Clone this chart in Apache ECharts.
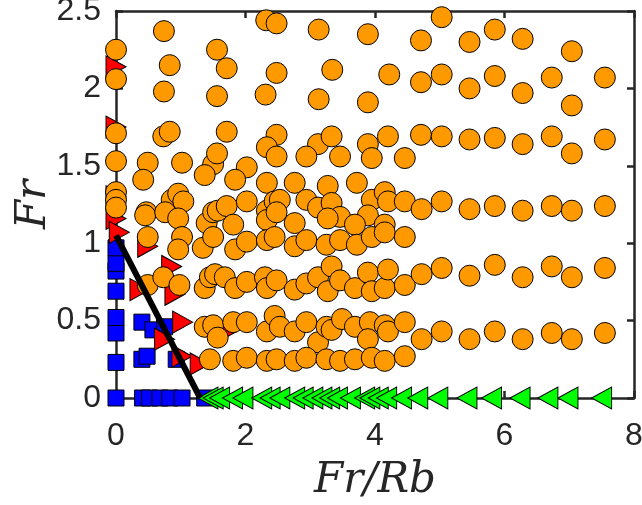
<!DOCTYPE html>
<html><head><meta charset="utf-8">
<script src="https://cdn.jsdelivr.net/npm/echarts@6/dist/echarts.min.js"></script>
<style>html,body{margin:0;padding:0;background:#fff}#c{width:642px;height:505px}</style>
</head><body><div id="c"></div>
<script>
const xTicks = [0, 2, 4, 6, 8];
const yTicks = [0, 0.5, 1, 1.5, 2, 2.5];

const bluePts = [[0,0],[0,0.23],[0,0.42],[0,0.52],[0,0.69],[0,0.82],[0,0.87],[0,0.97],
  [0.40,0.49],[0.57,0.44],[0.40,0.25],[0.48,0.27],[0.75,0.46],[0.93,0.25],
  [0.41,0],[0.52,0],[0.68,0],[0.83,0],[1.02,0],[1.37,0]];

const redPts = [[0,2.14],[0,1.75],[0,1.30],[0,1.16],[0.05,1.07],[0.49,0.98],[0.86,0.85],
  [0.37,0.70],[0.91,0.67],[1.03,0.49],[0.75,0.38],[1.02,0.27],[1.30,0.22],[1.71,0.43]];

const orangePts = [
  [2.32,2.44],[2.48,2.42],[3.13,2.38],[3.89,2.35],[4.71,2.31],[5.03,2.46],[5.46,2.30],[5.85,2.38],[6.28,2.32],[7.04,2.24],[0.74,2.37],[1.56,2.25],[0,2.25],
  [0,2.06],[0.83,2.15],[1.71,2.13],[2.48,2.10],[3.34,2.12],[4.22,2.09],[5.03,2.09],[5.85,2.08],[6.73,2.07],[7.55,2.07],
  [0.74,1.98],[1.56,1.95],[2.31,1.96],[3.13,1.93],[3.89,1.91],[4.71,2.04],[5.46,2.00],[6.28,1.97],[7.04,1.89],
  [0,1.71],[0.73,1.69],[0.83,1.72],[1.71,1.72],[2.48,1.70],[3.12,1.64],[3.33,1.69],[3.89,1.64],[4.20,1.69],[4.71,1.70],[5.03,1.69],[5.46,1.67],[5.85,1.68],[6.28,1.64],[6.73,1.69],[7.04,1.58],[7.55,1.67],
  [0,1.53],[0.49,1.52],[1.02,1.52],[1.50,1.51],[1.56,1.58],[2.02,1.49],[2.33,1.62],[2.48,1.56],[2.94,1.56],[3.46,1.56],[3.95,1.55],[4.46,1.55],
  [0.42,1.41],[1.37,1.44],[1.84,1.41],[2.33,1.39],[2.76,1.39],[3.27,1.37],[3.72,1.39],
  [0,1.33],[0,1.28],[0,1.23],[0.47,1.20],[0.45,1.18],[0.86,1.28],[0.96,1.32],[1.04,1.27],[0.76,1.20],[0.96,1.16],[1.40,1.13],[1.50,1.20],[1.57,1.21],[1.71,1.24],[1.81,1.12],[2.02,1.27],[2.33,1.21],[2.45,1.27],[2.33,1.15],[2.53,1.28],[2.48,1.20],[2.94,1.28],[3.12,1.23],[3.33,1.26],[3.46,1.17],[3.27,1.16],[3.95,1.28],[4.15,1.33],[4.20,1.27],[4.46,1.27],[4.72,1.22],[5.03,1.27],[3.89,1.18],[3.69,1.12],[4.15,1.12],[2.76,1.13],[5.46,1.22],[5.85,1.24],[6.28,1.21],[6.73,1.24],[7.04,1.21],[7.55,1.24],
  [0.49,1.04],[1.02,1.04],[0.96,0.96],[1.34,0.97],[1.50,1.04],[1.84,0.96],[2.02,1.01],[2.33,1.02],[2.45,1.04],[2.76,0.98],[2.94,1.02],[3.25,0.99],[3.46,1.02],[3.72,0.99],[3.95,1.04],[4.15,1.07],[4.46,1.04],
  [0.49,0.73],[0.73,0.78],[0.98,0.73],[1.37,0.71],[1.45,0.78],[1.53,0.80],[1.68,0.78],[1.84,0.71],[2.02,0.75],[2.30,0.78],[2.33,0.71],[2.48,0.76],[2.76,0.70],[2.94,0.74],[3.12,0.78],[3.33,0.85],[3.27,0.69],[3.46,0.76],[3.69,0.71],[3.89,0.81],[3.95,0.69],[4.15,0.71],[4.20,0.83],[4.46,0.73],[4.72,0.80],[5.03,0.84],[5.46,0.79],[5.85,0.86],[6.28,0.78],[6.73,0.85],[7.04,0.78],[7.55,0.84],
  [1.37,0.46],[1.50,0.47],[1.57,0.39],[1.81,0.49],[2.02,0.49],[2.33,0.43],[2.45,0.53],[2.53,0.46],[2.76,0.43],[2.94,0.49],[3.12,0.36],[3.25,0.46],[3.33,0.44],[3.49,0.51],[3.69,0.46],[3.92,0.49],[3.89,0.38],[4.15,0.47],[4.20,0.43],[4.46,0.49],[4.72,0.38],[5.03,0.43],[5.46,0.38],[5.85,0.43],[6.28,0.38],[6.73,0.42],[7.04,0.38],[7.55,0.42],
  [1.45,0.25],[1.81,0.24],[2.02,0.26],[2.33,0.24],[2.48,0.25],[2.76,0.24],[2.94,0.26],[3.25,0.25],[3.46,0.24],[3.69,0.25],[3.95,0.26],[4.15,0.24],[4.46,0.27]
];

const greenX = [1.42,1.50,1.60,1.80,1.96,2.25,2.38,2.53,2.76,2.89,3.04,3.18,3.30,3.42,3.62,3.84,3.92,4.05,4.18,4.41,4.66,4.97,5.42,5.80,6.24,6.67,6.98,7.50];
const greenY = 0;

const boundary = [[0,1.05],[1.3,0]];

const axisColor = '#262626';
const tickFont = {fontFamily: 'Liberation Sans', fontSize: 32, color: axisColor};
const nameFont = {fontFamily: 'DejaVu Serif', fontStyle: 'italic', fontSize: 42, color: axisColor};

function baseAxis(extra) {
  return Object.assign({
    type: 'value',
    axisLine: {show: true, onZero: false, lineStyle: {color: axisColor, width: 2.5}},
    axisTick: {show: true, inside: true, length: 7, lineStyle: {color: axisColor, width: 2.5}},
    splitLine: {show: false}
  }, extra);
}

const chart = echarts.init(document.getElementById('c'), null, {renderer: 'canvas'});
chart.setOption({
  animation: false,
  grid: {left: 116, right: 8, top: 11, bottom: 107, containLabel: false, outerBoundsMode: 'none'},
  xAxis: [
    baseAxis({position: 'bottom', min: xTicks[0], max: xTicks[xTicks.length-1], interval: 2,
      axisLabel: Object.assign({margin: 22}, tickFont),
      name: 'Fr/Rb', nameLocation: 'middle', nameGap: 62, nameMoveOverlap: false, nameTextStyle: nameFont}),
    baseAxis({position: 'top', min: xTicks[0], max: xTicks[xTicks.length-1], interval: 2,
      axisLabel: {show: false}})
  ],
  yAxis: [
    baseAxis({position: 'left', min: yTicks[0], max: yTicks[yTicks.length-1], interval: 0.5,
      axisLabel: Object.assign({margin: 15}, tickFont),
      name: 'Fr', nameLocation: 'middle', nameGap: 61, nameMoveOverlap: false, nameRotate: 90, nameTextStyle: nameFont}),
    baseAxis({position: 'right', min: yTicks[0], max: yTicks[yTicks.length-1], interval: 0.5,
      axisLabel: {show: false}})
  ],
  series: [
    {type: 'scatter', clip: false, z: 2, data: bluePts, symbol: 'rect', symbolSize: 16,
     itemStyle: {color: '#0000FF', borderColor: '#000', borderWidth: 1, opacity: 1}},
    {type: 'scatter', clip: false, z: 3, data: redPts, symbol: 'triangle', symbolRotate: -90, symbolSize: [22, 20],
     itemStyle: {color: '#FF0000', borderColor: '#000', borderWidth: 1, opacity: 1}},
    {type: 'scatter', clip: false, z: 4, data: orangePts, symbol: 'circle', symbolSize: 21,
     itemStyle: {color: '#FF9900', borderColor: '#000', borderWidth: 1, opacity: 1}},
    {type: 'scatter', clip: false, z: 5, data: greenX.map(x => [x, greenY]), symbol: 'triangle', symbolRotate: 90, symbolSize: [22, 20],
     itemStyle: {color: '#00FF00', borderColor: '#000', borderWidth: 1, opacity: 1}},
    {type: 'line', z: 6, data: boundary, symbol: 'none', silent: true,
     lineStyle: {color: '#000', width: 6}}
  ]
});
</script></body></html>
